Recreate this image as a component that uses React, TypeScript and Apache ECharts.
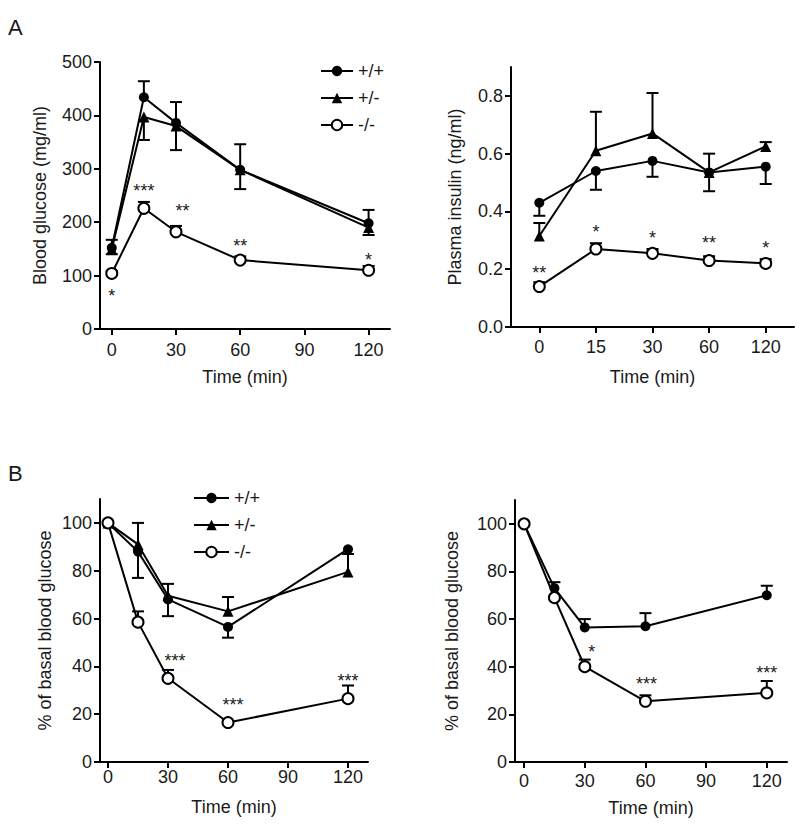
import React, { useEffect, useRef } from 'react';
import * as echarts from 'echarts';

const FONT = '"Liberation Sans", Arial, Helvetica, sans-serif';
const INK = '#1a1a1a';

const seriesNames = ['+/+', '+/-', '-/-'];
const times = [0, 15, 30, 60, 120];
const timeTicks = [0, 30, 60, 90, 120];
const insulinCats = ['0', '15', '30', '60', '120'];
const glucTicks = [0, 100, 200, 300, 400, 500];
const insTicks = [0, 0.2, 0.4, 0.6, 0.8];
const pctTicks = [0, 20, 40, 60, 80, 100];

// Panel A left: blood glucose (mg/ml)
const glucWT = [152, 434, 386, 298, 198];
const glucWTHi = [167, 464, 425, 346, 223];
const glucHet = [150, 397, 380, 298, 190];
const glucHetLo = [140, 354, 335, 262, 176];
const glucKO = [104, 226, 182, 129, 110];
const glucKOHi = [108, 238, 193, 136, 118];
const glucStarX = [0, 15, 33, 60, 120];
const glucStarY = [69, 266, 228, 163, 137];
const glucStars = ['*', '***', '**', '**', '*'];

// Panel A right: plasma insulin (ng/ml)
const insWT = [0.43, 0.54, 0.575, 0.535, 0.555];
const insWTLo = [0.385, 0.475, 0.52, 0.47, 0.495];
const insHet = [0.315, 0.61, 0.67, 0.535, 0.625];
const insHetHi = [0.36, 0.745, 0.81, 0.6, 0.64];
const insKO = [0.14, 0.27, 0.255, 0.23, 0.22];
const insKOHi = [0.155, 0.29, 0.27, 0.245, 0.235];
const insStarY = [0.2, 0.344, 0.323, 0.303, 0.289];
const insStars = ['**', '*', '*', '**', '*'];

// Panel B left: % of basal blood glucose
const itWT = [100, 88, 68, 56.5, 89];
const itWTLo = [null, 77, 61, 52, null];
const itHet = [100, 91, 69.5, 63, 79.5];
const itHetHi = [null, 100, 74.5, 69, 87];
const itKO = [100, 58.5, 35, 16.5, 26.5];
const itKOHi = [null, 63, 38.5, null, 32];
const itStarX = [33.5, 62.5, 120];
const itStarY = [44, 25.5, 35.5];
const itStars = ['***', '***', '***'];

// Panel B right: % of basal blood glucose
const it2WT = [100, 73, 56.5, 57, 70];
const it2WTHi = [null, 75.5, 60, 62.5, 74];
const it2KO = [100, 69, 40, 25.5, 29];
const it2KOHi = [null, null, 43, 28, 34];
const it2StarX = [33.5, 60.5, 120];
const it2StarY = [48, 34.5, 39];
const it2Stars = ['*', '***', '***'];

const pairs = (xs: number[], ys: number[]) => xs.map((x, i) => [x, ys[i]]);
const errData = (xs: number[], ys: number[], ends: (number | null)[]) =>
  xs.map((x, i) => (ends[i] == null ? null : [x, ys[i], ends[i]])).filter((d) => d !== null);

const lineSeries = (name: string, gi: number, data: number[][], symbol: string, size: number) => ({
  type: 'line',
  name,
  xAxisIndex: gi,
  yAxisIndex: gi,
  data,
  symbol,
  symbolSize: size,
  showAllSymbol: true,
  z: 3,
  color: '#000',
  lineStyle: { color: '#000', width: 2 },
  itemStyle: { color: '#000', borderWidth: symbol === 'emptyCircle' ? 2 : 0 },
  emphasis: { disabled: true },
});

const errSeries = (gi: number, data: any[]) => ({
  type: 'custom',
  xAxisIndex: gi,
  yAxisIndex: gi,
  z: 2,
  silent: true,
  data,
  encode: { x: 0, y: [1, 2] },
  renderItem: (params: any, api: any) => {
    const p0 = api.coord([api.value(0), api.value(1)]);
    const p1 = api.coord([api.value(0), api.value(2)]);
    const st = { stroke: '#000', lineWidth: 2 };
    return {
      type: 'group',
      children: [
        { type: 'line', shape: { x1: p0[0], y1: p0[1], x2: p1[0], y2: p1[1] }, style: st },
        { type: 'line', shape: { x1: p1[0] - 6, y1: p1[1], x2: p1[0] + 6, y2: p1[1] }, style: st },
      ],
    };
  },
});

const starSeries = (gi: number, xs: number[], ys: number[], texts: string[]) => ({
  type: 'custom',
  xAxisIndex: gi,
  yAxisIndex: gi,
  z: 4,
  silent: true,
  data: pairs(xs, ys),
  renderItem: (params: any, api: any) => {
    const p = api.coord([api.value(0), api.value(1)]);
    return {
      type: 'text',
      x: p[0],
      y: p[1] + 4,
      style: {
        text: texts[params.dataIndex],
        fill: INK,
        font: `18px ${FONT}`,
        align: 'center',
        verticalAlign: 'middle',
      },
    };
  },
});

const axisBase = (extra: any) => ({
  nameLocation: 'middle',
  nameTextStyle: { color: INK, fontSize: 18, fontFamily: FONT },
  axisLine: { show: true, onZero: false, lineStyle: { color: '#000', width: 2 } },
  axisTick: { show: true, length: 6, lineStyle: { color: '#000', width: 2 } },
  axisLabel: { color: INK, fontSize: 18, fontFamily: FONT },
  splitLine: { show: false },
  ...extra,
});

const timeAxis = (gi: number, min: number, labelMargin: number, nameGap: number) =>
  axisBase({
    type: 'value',
    gridIndex: gi,
    min,
    max: 130,
    name: 'Time (min)',
    nameGap,
    axisTick: { show: true, length: 6, lineStyle: { color: '#000', width: 2 }, customValues: timeTicks },
    axisLabel: { color: INK, fontSize: 18, fontFamily: FONT, margin: labelMargin, customValues: timeTicks },
  });

const valueAxis = (gi: number, name: string, max: number, ticks: number[], nameGap: number, fmt?: (v: number) => string) =>
  axisBase({
    type: 'value',
    gridIndex: gi,
    min: 0,
    max,
    name,
    nameGap,
    axisTick: { show: true, length: 6, lineStyle: { color: '#000', width: 2 }, customValues: ticks },
    axisLabel: {
      color: INK,
      fontSize: 18,
      fontFamily: FONT,
      margin: 8,
      customValues: ticks,
      formatter: fmt ? fmt : (v: number) => String(v),
    },
  });

const legendBase = (left: number, top: number, width: number) => ({
  show: true,
  left,
  top,
  orient: 'vertical',
  itemWidth: width,
  itemHeight: 13,
  itemGap: 9,
  data: seriesNames,
  selectedMode: false,
  textStyle: { color: INK, fontSize: 18, fontFamily: FONT, lineHeight: 18 },
});

export default function App() {
  const ref = useRef<HTMLDivElement>(null);

  useEffect(() => {
    document.body.style.margin = '0';
    if (!ref.current) return;
    const chart = echarts.init(ref.current, undefined, { renderer: 'svg' });
    const idx = insulinCats.map((_, i) => i);

    const option: any = {
      animation: false,
      backgroundColor: '#fff',
      textStyle: { fontFamily: FONT },
      legend: [legendBase(315, 57, 32), legendBase(188, 484, 35)],
      grid: [
        { left: 100, top: 62, width: 290, height: 267 },
        { left: 511, top: 67, width: 283, height: 260 },
        { left: 100, top: 499, width: 268, height: 263 },
        { left: 515, top: 500, width: 272, height: 262 },
      ],
      xAxis: [
        timeAxis(0, -5.5, 12, 39),
        axisBase({
          type: 'category',
          gridIndex: 1,
          data: insulinCats,
          boundaryGap: true,
          name: 'Time (min)',
          nameGap: 41,
          axisTick: { show: true, length: 6, alignWithLabel: true, lineStyle: { color: '#000', width: 2 } },
          axisLabel: { color: INK, fontSize: 18, fontFamily: FONT, margin: 11, interval: 0 },
        }),
        timeAxis(2, -4, 6, 36),
        timeAxis(3, -4.5, 10, 37),
      ],
      yAxis: [
        valueAxis(0, 'Blood glucose (mg/ml)', 500, glucTicks, 51),
        valueAxis(1, 'Plasma insulin (ng/ml)', 0.9, insTicks, 47, (v: number) => v.toFixed(1)),
        valueAxis(2, '% of basal blood glucose', 110, pctTicks, 46),
        valueAxis(3, '% of basal blood glucose', 110, pctTicks, 54),
      ],
      graphic: [
        { type: 'text', left: 8, top: 16, style: { text: 'A', fill: INK, font: `22px ${FONT}` } },
        { type: 'text', left: 8, top: 462, style: { text: 'B', fill: INK, font: `22px ${FONT}` } },
      ],
      series: [
        // A left
        errSeries(0, errData(times, glucWT, glucWTHi)),
        errSeries(0, errData(times, glucHet, glucHetLo)),
        errSeries(0, errData(times, glucKO, glucKOHi)),
        lineSeries('+/+', 0, pairs(times, glucWT), 'circle', 10),
        lineSeries('+/-', 0, pairs(times, glucHet), 'triangle', 11),
        lineSeries('-/-', 0, pairs(times, glucKO), 'emptyCircle', 11),
        starSeries(0, glucStarX, glucStarY, glucStars),
        // A right
        errSeries(1, errData(idx, insWT, insWTLo)),
        errSeries(1, errData(idx, insHet, insHetHi)),
        errSeries(1, errData(idx, insKO, insKOHi)),
        lineSeries('+/+', 1, pairs(idx, insWT), 'circle', 10),
        lineSeries('+/-', 1, pairs(idx, insHet), 'triangle', 11),
        lineSeries('-/-', 1, pairs(idx, insKO), 'emptyCircle', 11),
        starSeries(1, idx, insStarY, insStars),
        // B left
        errSeries(2, errData(times, itWT, itWTLo)),
        errSeries(2, errData(times, itHet, itHetHi)),
        errSeries(2, errData(times, itKO, itKOHi)),
        lineSeries('+/+', 2, pairs(times, itWT), 'circle', 10),
        lineSeries('+/-', 2, pairs(times, itHet), 'triangle', 11),
        lineSeries('-/-', 2, pairs(times, itKO), 'emptyCircle', 11),
        starSeries(2, itStarX, itStarY, itStars),
        // B right
        errSeries(3, errData(times, it2WT, it2WTHi)),
        errSeries(3, errData(times, it2KO, it2KOHi)),
        lineSeries('+/+', 3, pairs(times, it2WT), 'circle', 10),
        lineSeries('-/-', 3, pairs(times, it2KO), 'emptyCircle', 11),
        starSeries(3, it2StarX, it2StarY, it2Stars),
      ],
    };

    chart.setOption(option);
    return () => chart.dispose();
  }, []);

  return <div ref={ref} style={{ width: 800, height: 833 }} />;
}
